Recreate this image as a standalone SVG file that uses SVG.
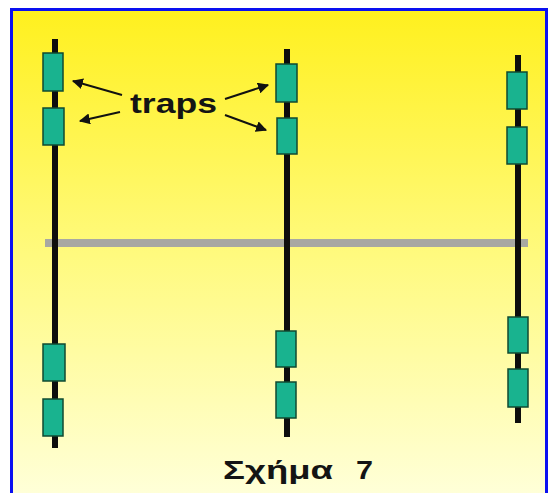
<svg xmlns="http://www.w3.org/2000/svg" width="548" height="493" viewBox="0 0 548 493">
  <defs>
    <linearGradient id="bg" x1="0" y1="0" x2="0" y2="1">
      <stop offset="0" stop-color="#FFF01E"/>
      <stop offset="0.5" stop-color="#FFFA7E"/>
      <stop offset="1" stop-color="#FFFFDA"/>
    </linearGradient>
    <marker id="head" viewBox="0 0 10 10" refX="9" refY="5" markerWidth="5.5" markerHeight="5.5" orient="auto" markerUnits="strokeWidth">
      <path d="M0,0 L10,5 L0,10 z" fill="#111"/>
    </marker>
    <style>
      .strand { stroke: #0d0d0d; stroke-width: 6; }
      .trap { fill: #19B38F; stroke: #114A30; stroke-width: 1.5; }
      .arrow { stroke: #111; stroke-width: 2; fill: none; marker-end: url(#head); }
      .label { font-family: "Liberation Sans", Arial, sans-serif; font-weight: bold; fill: #141414; }
    </style>
  </defs>

  <!-- page and frame -->
  <rect x="0" y="0" width="548" height="493" fill="#FFFFFF"/>
  <rect x="11.5" y="9.5" width="535" height="490" fill="url(#bg)" stroke="#0A10F0" stroke-width="3"/>

  <!-- horizontal gray bar -->
  <g id="bar">
    <line x1="45" y1="243" x2="528" y2="243" stroke="#A8A8A2" stroke-width="8"/>
  </g>

  <!-- strand 1 -->
  <g id="strand1">
    <line class="strand" x1="55" y1="39" x2="55" y2="448"/>
    <rect class="trap" x="43" y="53" width="20" height="38"/>
    <rect class="trap" x="43" y="108" width="21" height="37"/>
    <rect class="trap" x="43" y="344" width="22" height="37"/>
    <rect class="trap" x="43" y="399" width="20" height="37"/>
  </g>

  <!-- strand 2 -->
  <g id="strand2">
    <line class="strand" x1="287" y1="49" x2="287" y2="437"/>
    <rect class="trap" x="276" y="64" width="21" height="38"/>
    <rect class="trap" x="277" y="118" width="20" height="36"/>
    <rect class="trap" x="276" y="331" width="20" height="36"/>
    <rect class="trap" x="276" y="382" width="20" height="36"/>
  </g>

  <!-- strand 3 -->
  <g id="strand3">
    <line class="strand" x1="518" y1="55" x2="518" y2="423"/>
    <rect class="trap" x="507" y="72" width="20" height="37"/>
    <rect class="trap" x="507" y="127" width="20" height="37"/>
    <rect class="trap" x="508" y="317" width="20" height="36"/>
    <rect class="trap" x="508" y="369" width="20" height="38"/>
  </g>

  <!-- label -->
  <g id="traps-label">
    <text class="label" x="130" y="113" font-size="28" textLength="87" lengthAdjust="spacingAndGlyphs">traps</text>
  </g>

  <!-- pointers from label to traps -->
  <g id="connectors">
    <line class="arrow" x1="122" y1="95" x2="73" y2="81"/>
    <line class="arrow" x1="120" y1="112" x2="80" y2="121"/>
    <line class="arrow" x1="225" y1="99" x2="268" y2="85"/>
    <line class="arrow" x1="225" y1="115" x2="266" y2="130"/>
  </g>

  <!-- caption -->
  <g id="caption">
    <text class="label" y="479" font-size="25">
      <tspan x="223" textLength="110" lengthAdjust="spacingAndGlyphs">Σχήμα</tspan>
      <tspan x="356" textLength="17" lengthAdjust="spacingAndGlyphs">7</tspan>
    </text>
  </g>
</svg>
